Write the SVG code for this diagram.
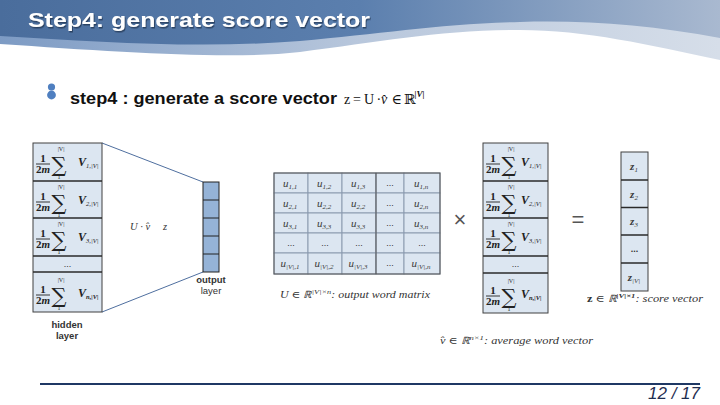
<svg xmlns="http://www.w3.org/2000/svg" width="720" height="405" viewBox="0 0 720 405">
<defs>
<linearGradient id="gDark" x1="0" y1="0" x2="1" y2="0">
<stop offset="0" stop-color="#4a6d9c"/>
<stop offset="0.5" stop-color="#5b7fae"/>
<stop offset="1" stop-color="#a9b9d0"/>
</linearGradient>
<linearGradient id="gLight" x1="0" y1="0" x2="1" y2="0">
<stop offset="0" stop-color="#7d9bc4"/>
<stop offset="0.5" stop-color="#b8c7dc"/>
<stop offset="1" stop-color="#d6dee9"/>
</linearGradient>
<filter id="sh" x="-5%" y="-20%" width="110%" height="150%">
<feDropShadow dx="1" dy="1.5" stdDeviation="0.6" flood-color="#1e2f4a" flood-opacity="0.7"/>
</filter>
<style>
.title{font-family:"Liberation Sans",Arial,sans-serif;font-weight:bold;font-size:21px;fill:#fff}
.bold{font-family:"Liberation Sans",Arial,sans-serif;font-weight:bold;font-size:17px;fill:#111}
.math{font-family:"Liberation Serif","DejaVu Serif",serif;font-size:14px;fill:#111}
.it{font-family:"Liberation Serif","DejaVu Serif",serif;font-style:italic;fill:#333}
.lbl{font-family:"Liberation Sans",Arial,sans-serif;font-size:9.5px;fill:#333;text-anchor:middle}
.cell{fill:#dce6f1;stroke:#404040;stroke-width:1}
.ucell{fill:#dce6f1;stroke:#8c9bb0;stroke-width:1}
.div{stroke:#2a2a2a;stroke-width:1.5}
.fr{font-family:"Liberation Serif","DejaVu Serif",serif;font-weight:bold;font-size:11px;fill:#222;text-anchor:middle}
.sig{font-family:"DejaVu Serif","Liberation Serif",serif;font-size:21px;fill:#222;text-anchor:middle}
.sm{font-family:"Liberation Serif","DejaVu Serif",serif;font-size:6px;fill:#222;text-anchor:middle}
.vv{font-family:"Liberation Serif","DejaVu Serif",serif;font-style:italic;font-weight:bold;font-size:12px;fill:#222}
.uc{font-family:"Liberation Serif","DejaVu Serif",serif;font-style:italic;font-size:11px;fill:#3a3a3a;text-anchor:middle}
.dots{font-family:"Liberation Sans",Arial,sans-serif;font-size:9px;fill:#333;text-anchor:middle}
.conn{stroke:#4f6f9f;stroke-width:1;fill:none}
</style>
<g id="sf">
<text x="10" y="19" class="fr">1</text>
<line x1="3" y1="21" x2="17" y2="21" stroke="#222" stroke-width="0.9"/>
<text x="10" y="30" class="fr">2<tspan font-style="italic">m</tspan></text>
<text x="26" y="29" class="sig">∑</text>
<text x="28" y="8" class="sm">|V|</text>
<text x="26" y="36" class="sm">1</text>
</g>
</defs>
<rect width="720" height="405" fill="#fff"/>
<!-- header -->
<path d="M0,0 H720 V60 C650,45 585,30 520,30 C440,30 380,42 300,52 C230,60 120,52 0,44 Z" fill="url(#gLight)"/>
<path d="M0,0 H720 V38 C650,25 585,20 520,22 C440,24 380,34 300,41 C200,49 100,42 0,36 Z" fill="url(#gDark)"/>
<text x="28" y="27" class="title" textLength="342" lengthAdjust="spacingAndGlyphs" filter="url(#sh)">Step4: generate score vector</text>
<!-- bullet line -->
<circle cx="51.5" cy="87" r="3.6" fill="#4f7fc0"/>
<circle cx="51.5" cy="95" r="4.4" fill="#4f7fc0"/>
<text x="70" y="104" class="bold" textLength="267" lengthAdjust="spacingAndGlyphs">step4 : generate a score vector</text>
<text y="104" class="math"><tspan x="344">z</tspan><tspan x="353">=</tspan><tspan x="364">U</tspan><tspan x="376.5">·</tspan><tspan x="381" font-style="italic">v̂</tspan><tspan x="391.5">∈</tspan><tspan x="404">ℝ</tspan><tspan x="414.5" y="97" font-size="9" font-style="italic" font-weight="bold">|V|</tspan></text>
<!-- connectors -->
<g id="connectors">
<line class="conn" x1="102" y1="143" x2="203" y2="182"/>
<line class="conn" x1="102" y1="312" x2="203" y2="272"/>
</g>
<!-- hidden layer -->
<g id="hidden-layer">
<rect class="cell" x="33" y="143" width="69" height="169"/>
<line class="div" x1="33" y1="181" x2="102" y2="181"/>
<line class="div" x1="33" y1="218" x2="102" y2="218"/>
<line class="div" x1="33" y1="256" x2="102" y2="256"/>
<line class="div" x1="33" y1="272" x2="102" y2="272"/>
<use href="#sf" x="33" y="143"/>
<text x="78" y="166" class="vv">V<tspan font-size="6.5" dy="2" font-weight="normal">1,|V|</tspan></text>
<use href="#sf" x="33" y="181"/>
<text x="78" y="204" class="vv">V<tspan font-size="6.5" dy="2" font-weight="normal">2,|V|</tspan></text>
<use href="#sf" x="33" y="218"/>
<text x="78" y="241" class="vv">V<tspan font-size="6.5" dy="2" font-weight="normal">3,|V|</tspan></text>
<text x="67.5" y="267" class="dots">...</text>
<use href="#sf" x="33" y="274"/>
<text x="78" y="297" class="vv">V<tspan font-size="6.5" dy="2">n,|V|</tspan></text>
<text x="67" y="328" class="lbl" font-weight="bold">hidden</text>
<text x="67" y="339" class="lbl" font-weight="bold">layer</text>
</g>
<!-- U v z labels -->
<text x="130" y="230" class="it" font-size="10.5">U · v̂</text>
<text x="163" y="230" class="it" font-size="10.5">z</text>
<!-- output layer -->
<g id="output-layer">
<rect x="203" y="182" width="16" height="90" fill="#95b3d7" stroke="#222" stroke-width="1"/>
<line x1="203" y1="200" x2="219" y2="200" stroke="#222" stroke-width="1"/>
<line x1="203" y1="218" x2="219" y2="218" stroke="#222" stroke-width="1"/>
<line x1="203" y1="236" x2="219" y2="236" stroke="#222" stroke-width="1"/>
<line x1="203" y1="254" x2="219" y2="254" stroke="#222" stroke-width="1"/>
<text x="211" y="283" class="lbl" font-weight="bold">output</text>
<text x="211" y="294" class="lbl" fill="#555">layer</text>
</g>
<!-- matrix U -->
<g id="matrix-U">
<rect class="ucell" x="274" y="173" width="34" height="20"/><rect class="ucell" x="308" y="173" width="34" height="20"/><rect class="ucell" x="342" y="173" width="34" height="20"/><rect class="ucell" x="376" y="173" width="28" height="20"/><rect class="ucell" x="404" y="173" width="36" height="20"/>
<rect class="ucell" x="274" y="193" width="34" height="20"/><rect class="ucell" x="308" y="193" width="34" height="20"/><rect class="ucell" x="342" y="193" width="34" height="20"/><rect class="ucell" x="376" y="193" width="28" height="20"/><rect class="ucell" x="404" y="193" width="36" height="20"/>
<rect class="ucell" x="274" y="213" width="34" height="20"/><rect class="ucell" x="308" y="213" width="34" height="20"/><rect class="ucell" x="342" y="213" width="34" height="20"/><rect class="ucell" x="376" y="213" width="28" height="20"/><rect class="ucell" x="404" y="213" width="36" height="20"/>
<rect class="ucell" x="274" y="233" width="34" height="20"/><rect class="ucell" x="308" y="233" width="34" height="20"/><rect class="ucell" x="342" y="233" width="34" height="20"/><rect class="ucell" x="376" y="233" width="28" height="20"/><rect class="ucell" x="404" y="233" width="36" height="20"/>
<rect class="ucell" x="274" y="253" width="34" height="21"/><rect class="ucell" x="308" y="253" width="34" height="21"/><rect class="ucell" x="342" y="253" width="34" height="21"/><rect class="ucell" x="376" y="253" width="28" height="21"/><rect class="ucell" x="404" y="253" width="36" height="21"/>
<rect x="274" y="173" width="166" height="101" fill="none" stroke="#555" stroke-width="1"/>
<line x1="376" y1="173" x2="376" y2="274" stroke="#555" stroke-width="1"/>
<text x="290" y="187" class="uc">u<tspan font-size="7" dy="2">1,1</tspan></text>
<text x="324" y="187" class="uc">u<tspan font-size="7" dy="2">1,2</tspan></text>
<text x="358" y="187" class="uc">u<tspan font-size="7" dy="2">1,3</tspan></text>
<text x="390" y="186" class="dots">...</text>
<text x="421" y="187" class="uc">u<tspan font-size="7" dy="2">1,n</tspan></text>
<text x="290" y="207" class="uc">u<tspan font-size="7" dy="2">2,1</tspan></text>
<text x="324" y="207" class="uc">u<tspan font-size="7" dy="2">2,2</tspan></text>
<text x="358" y="207" class="uc">u<tspan font-size="7" dy="2">2,2</tspan></text>
<text x="390" y="206" class="dots">...</text>
<text x="421" y="207" class="uc">u<tspan font-size="7" dy="2">2,n</tspan></text>
<text x="290" y="227" class="uc">u<tspan font-size="7" dy="2">3,1</tspan></text>
<text x="324" y="227" class="uc">u<tspan font-size="7" dy="2">3,3</tspan></text>
<text x="358" y="227" class="uc">u<tspan font-size="7" dy="2">3,3</tspan></text>
<text x="390" y="226" class="dots">...</text>
<text x="421" y="227" class="uc">u<tspan font-size="7" dy="2">3,n</tspan></text>
<text x="291" y="246" class="dots">...</text>
<text x="325" y="246" class="dots">...</text>
<text x="359" y="246" class="dots">...</text>
<text x="390" y="246" class="dots">...</text>
<text x="422" y="246" class="dots">...</text>
<text x="290" y="267" class="uc">u<tspan font-size="7" dy="2">|V|,1</tspan></text>
<text x="324" y="267" class="uc">u<tspan font-size="7" dy="2">|V|,2</tspan></text>
<text x="358" y="267" class="uc">u<tspan font-size="7" dy="2">|V|,3</tspan></text>
<text x="390" y="266" class="dots">...</text>
<text x="421" y="267" class="uc">u<tspan font-size="7" dy="2">|V|,n</tspan></text>
<text x="280" y="298" class="it" font-size="10" textLength="150" lengthAdjust="spacingAndGlyphs">U ∈ ℝ<tspan font-size="7" dy="-4">|V|×n</tspan><tspan dy="4">: output word matrix</tspan></text>
</g>
<text x="460" y="227" font-family="Liberation Sans,Arial,sans-serif" font-size="22" fill="#555" text-anchor="middle">×</text>
<!-- average vector -->
<g id="avg-vector">
<rect class="cell" x="483" y="143" width="65" height="170"/>
<line class="div" x1="483" y1="181" x2="548" y2="181"/>
<line class="div" x1="483" y1="218" x2="548" y2="218"/>
<line class="div" x1="483" y1="256" x2="548" y2="256"/>
<line class="div" x1="483" y1="273" x2="548" y2="273"/>
<use href="#sf" x="483" y="143"/>
<text x="521" y="166" class="vv">V<tspan font-size="6.5" dy="2" font-weight="normal">1,|V|</tspan></text>
<use href="#sf" x="483" y="181"/>
<text x="521" y="204" class="vv">V<tspan font-size="6.5" dy="2" font-weight="normal">2,|V|</tspan></text>
<use href="#sf" x="483" y="218"/>
<text x="521" y="241" class="vv">V<tspan font-size="6.5" dy="2" font-weight="normal">3,|V|</tspan></text>
<text x="515.5" y="267" class="dots">...</text>
<use href="#sf" x="483" y="275"/>
<text x="521" y="298" class="vv">V<tspan font-size="6.5" dy="2">n,|V|</tspan></text>
<text x="440" y="344" class="it" font-size="10" textLength="153" lengthAdjust="spacingAndGlyphs">v̂ ∈ ℝ<tspan font-size="7" dy="-4">n×1</tspan><tspan dy="4">: average word vector</tspan></text>
</g>
<text x="578" y="227" font-family="Liberation Sans,Arial,sans-serif" font-size="22" fill="#555" text-anchor="middle">=</text>
<!-- score vector -->
<g id="score-vector">
<rect class="cell" x="621" y="152" width="27" height="139"/>
<line class="div" x1="621" y1="180" x2="648" y2="180"/>
<line class="div" x1="621" y1="207.5" x2="648" y2="207.5"/>
<line class="div" x1="621" y1="235" x2="648" y2="235"/>
<line class="div" x1="621" y1="263" x2="648" y2="263"/>
<text x="634" y="170" class="uc" font-weight="bold" font-size="12">z<tspan font-size="7" dy="2" font-weight="normal">1</tspan></text>
<text x="634" y="198" class="uc" font-weight="bold" font-size="12">z<tspan font-size="7" dy="2" font-weight="normal">2</tspan></text>
<text x="634" y="225" class="uc" font-weight="bold" font-size="12">z<tspan font-size="7" dy="2" font-weight="normal">3</tspan></text>
<text x="634.5" y="252" class="dots" font-weight="bold">...</text>
<text x="634" y="281" class="uc" font-weight="bold" font-size="12">z<tspan font-size="7" dy="2" font-weight="normal">|V|</tspan></text>
<text x="587" y="302" class="it" font-size="10" textLength="116" lengthAdjust="spacingAndGlyphs"><tspan font-weight="bold" font-style="normal">z</tspan> ∈ ℝ<tspan font-size="7" dy="-4" font-weight="bold">|V|×1</tspan><tspan dy="4">: score vector</tspan></text>
</g>
<!-- footer -->
<line x1="40" y1="384" x2="700" y2="384" stroke="#1f3864" stroke-width="2"/>
<text x="700" y="399" font-family="Liberation Sans,Arial,sans-serif" font-style="italic" font-size="16" fill="#1f2d50" text-anchor="end" textLength="52" lengthAdjust="spacingAndGlyphs">12 / 17</text>
</svg>
